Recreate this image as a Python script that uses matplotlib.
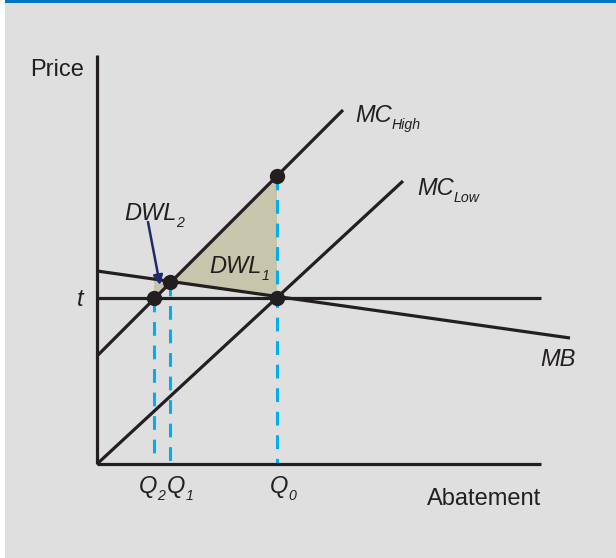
import matplotlib
matplotlib.use('Agg')
import matplotlib.pyplot as plt
from matplotlib.patches import Rectangle

plt.rcParams['font.family'] = ['Liberation Sans', 'DejaVu Sans']

# Curves (quantity, price) end points
mc_high_q = [0, 24.6]
mc_high_p = [10.8, 35.4]
mc_low_q = [0, 30.6]
mc_low_p = [0, 28.3]
mb_q = [0, 47.3]
mb_p = [19.3, 12.6]
tax = 16.6
q_max = 44.4
p_max = 40.9

# Key quantities and marked points
q_subs = ['2', '1', '0']
q_values = [5.7, 7.3, 18.0]
q_tops = [16.6, 18.2, 28.8]
point_q = [5.7, 7.3, 18.0, 18.0]
point_p = [16.6, 18.2, 16.6, 28.8]

# Deadweight loss areas
dwl1_q = [7.3, 18.0, 18.0]
dwl1_p = [18.2, 28.8, 16.7]
dwl2_q = [5.7, 5.7, 7.3]
dwl2_p = [16.5, 18.5, 18.2]

BG = '#dfdfdf'
BLUE = '#00aeef'
INK = '#231f20'

fig = plt.figure(figsize=(6.16, 5.58), dpi=100, facecolor=BG)
ax = fig.add_axes([0, 0, 1, 1])
ax.set_xlim(-9.7, 51.9)
ax.set_ylim(-9.4, 46.4)
ax.axis('off')

# frame decoration: white strip left, blue band top
fig.patches.append(Rectangle((0, 0), 5 / 616, 1, transform=fig.transFigure,
                             facecolor='white', edgecolor='none', zorder=0))
fig.patches.append(Rectangle((5 / 616, 1 - 3 / 558), 1, 3 / 558, transform=fig.transFigure,
                             facecolor='#0077c0', edgecolor='none', zorder=0))

ax.fill(dwl1_q, dwl1_p, color='#c7c5ab', zorder=1, lw=0)
ax.fill(dwl2_q, dwl2_p, color='#c7c5ab', zorder=1, lw=0)

lw = 2.3
# axes and tax line
ax.plot([0, 0], [0, p_max], color=INK, lw=lw, zorder=3, solid_capstyle='butt')
ax.plot([0, q_max], [0, 0], color=INK, lw=lw, zorder=3, solid_capstyle='butt')
ax.plot([0, q_max], [tax, tax], color=INK, lw=lw, zorder=3, solid_capstyle='butt')

# dashed drop lines
for q, p in zip(q_values, q_tops):
    ax.plot([q, q], [p, 0], color=BLUE, lw=2.2, ls=(0, (4.5, 3.2)), zorder=2)

ax.plot(mc_high_q, mc_high_p, color=INK, lw=lw, zorder=3, solid_capstyle='butt')
ax.plot(mc_low_q, mc_low_p, color=INK, lw=lw, zorder=3, solid_capstyle='butt')
ax.plot(mb_q, mb_p, color=INK, lw=lw, zorder=3, solid_capstyle='butt')

ax.plot(point_q, point_p, 'o', color=INK, markersize=10, zorder=4)

ax.annotate('', xy=(6.3, 17.9), xytext=(5.1, 24.2),
            arrowprops=dict(arrowstyle='-|>', color='#1f2a6b', lw=1.8,
                            mutation_scale=14, shrinkA=0, shrinkB=0), zorder=5)

fs = 17


def label(x, y, main, sub=None, italic=True, ha='left'):
    style = 'italic' if italic else 'normal'
    t = ax.text(x, y, main, fontsize=fs, color=INK, va='baseline', ha=ha, style=style)
    if sub:
        ax.annotate(sub, xy=(1, 0), xycoords=t, xytext=(0, -1.8),
                    textcoords='offset points', fontsize=fs * 0.6, color=INK,
                    va='baseline', ha='left', style='italic')


label(-1.3, 38.8, 'Price', italic=False, ha='right')
label(-1.3, 15.8, 't', ha='right')
label(44.4, -4.1, 'Abatement', italic=False, ha='right')
label(25.8, 34.2, 'MC', 'High')
label(32.0, 26.9, 'MC', 'Low')
label(44.3, 9.8, 'MB')
label(2.7, 24.4, 'DWL', '2')
label(11.2, 19.1, 'DWL', '1')
for sub, x in zip(q_subs, [4.2, 7.0, 17.3]):
    label(x, -2.9, 'Q', sub)

fig.savefig('out.png', dpi=100, facecolor=BG)
